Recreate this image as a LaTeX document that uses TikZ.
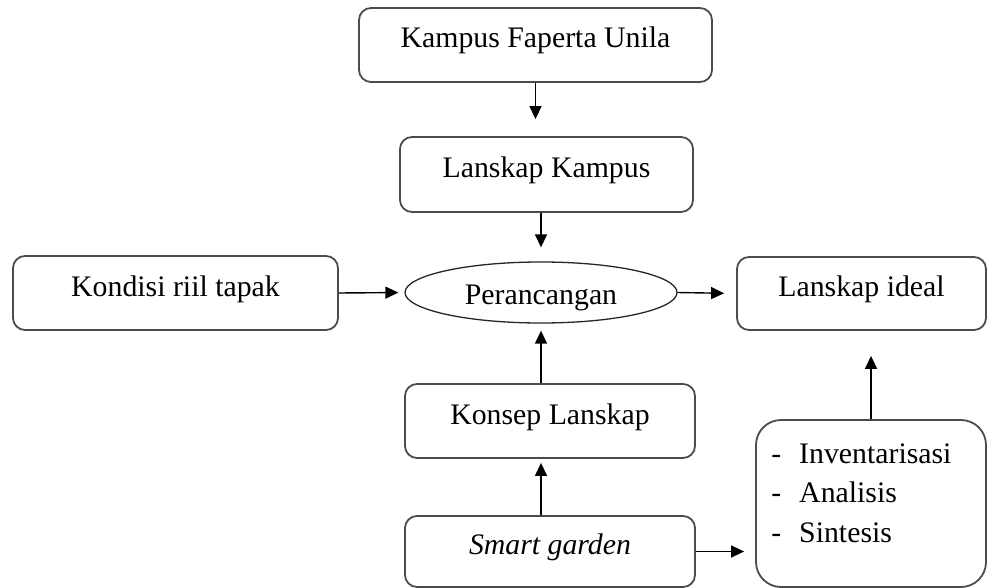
\documentclass[tikz,border=0pt]{standalone}
\usepackage{fontspec}
\setmainfont{Liberation Serif}
\usetikzlibrary{arrows.meta,shapes.geometric}

\tikzset{
    kotak/.style 2 args={draw=black!70, line width=1.8pt, rounded corners=12pt,
        minimum width=#1, minimum height=#2, inner sep=0pt,
        text height=22pt, text depth=16pt, font=\fontsize{29.8}{36}\selectfont},
    elips/.style={ellipse, draw=black!85, line width=1.3pt,
        minimum width=272pt, minimum height=61pt, inner sep=0pt,
        text height=25pt, text depth=2pt, font=\fontsize{29.8}{36}\selectfont},
    daftar/.style={inner sep=0pt, font=\fontsize{29.8}{39.5}\selectfont},
    panah/.style={-{Triangle[length=13pt,width=12pt]}, line width=1.4pt}
}

\begin{document}
\begin{tikzpicture}[x=1pt, y=-1pt]
    \useasboundingbox (0,0) rectangle (987,588);

    % Draw the boxes of the flow
    \node[kotak={353pt}{74pt}] (kampus) at (535.5,45) {Kampus Faperta Unila};
    \node[kotak={293pt}{75pt}] (lanskap) at (546.5,174.5) {Lanskap Kampus};
    \node[kotak={325pt}{74pt}] (kondisi) at (175.5,293) {Kondisi riil tapak};
    \node[elips] (rancang) at (541,292.5) {Perancangan};
    \node[kotak={249pt}{73pt}] (ideal) at (861.5,293.5) {Lanskap ideal};
    \node[kotak={290pt}{74pt}] (konsep) at (550,421) {Konsep Lanskap};
    \node[kotak={290pt}{71pt}] (smart) at (550,551.5) {\itshape Smart garden};

    % Box with the list of steps
    \node[kotak={230pt}{167pt}, rounded corners=25pt] (metode) at (871,503.5) {};
    \node[daftar, anchor=base west] (langkah) at ([shift={(16,44)}]metode.north west)
        {\begin{tabular}[t]{@{}l@{\hspace{18pt}}l@{}}
            - & Inventarisasi\\
            - & Analisis\\
            - & Sintesis
        \end{tabular}};

    % Draw the arrows
    \draw[panah, shorten >=17pt] (kampus.south) -- (kampus.south |- lanskap.north);
    \draw[panah, shorten >=14pt] (rancang.north |- lanskap.south) -- (rancang.north);
    \draw[panah, shorten >=6pt] (kondisi.east) -- (rancang.west);
    \draw[panah, shorten >=12pt] (rancang.east) -- (ideal.west);
    \draw[panah, shorten >=7pt] (rancang.south |- konsep.north) -- (rancang.south);
    \draw[panah, shorten >=4pt] (rancang.south |- smart.north) -- (rancang.south |- konsep.south);
    \draw[panah, shorten >=11pt] (smart.east) -- (smart.east -| metode.west);
    \draw[panah, shorten >=25pt] (metode.north) -- (metode.north |- ideal.south);

\end{tikzpicture}
\end{document}
